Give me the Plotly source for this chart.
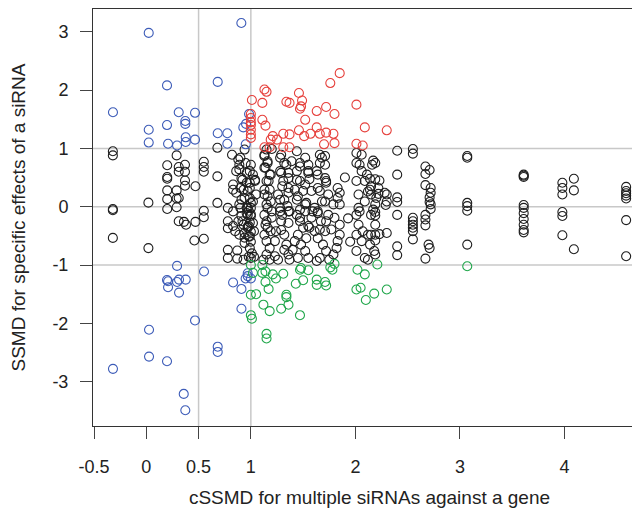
import plotly.graph_objects as go

# ---------------- data ----------------
blue_pts = [
    (0.909, 3.15), (0.023, 2.98), (0.198, 2.08), (0.683, 2.14), (-0.319, 1.62), (0.31, 1.62),
    (0.466, 1.61), (0.373, 1.47), (0.373, 1.42), (0.198, 1.40), (0.023, 1.32), (0.023, 1.10),
    (0.208, 1.08), (0.294, 1.05), (0.377, 1.11), (0.377, 1.19), (0.466, 1.15), (0.683, 1.26),
    (0.775, 1.26), (0.775, 1.08), (0.928, 1.36), (0.954, 1.42), (0.983, 1.59), (0.951, 1.07),
    (0.294, -1.015), (0.552, -1.11), (0.198, -1.256), (0.208, -1.278), (0.208, -1.381), (0.294, -1.29),
    (0.313, -1.25), (0.377, -1.25), (0.313, -1.473), (0.83, -1.30), (0.91, -1.41), (0.95, -1.23),
    (0.97, -1.19), (1.0, -1.23), (0.97, -1.14), (0.91, -1.75), (0.466, -1.95), (0.026, -2.11),
    (0.683, -2.40), (0.683, -2.49), (0.026, -2.57), (0.198, -2.65), (-0.319, -2.78), (0.358, -3.21),
    (0.373, -3.49),
]

red_pts = [
    (1.01, 1.83), (1.0, 1.59), (1.0, 1.52), (1.0, 1.45), (1.0, 1.40), (1.0, 1.32), (1.0, 1.24), (1.0, 1.18),
    (1.11, 1.78), (1.13, 2.01), (1.15, 1.97), (1.11, 1.49), (1.14, 1.39), (1.21, 1.21), (1.19, 1.15),
    (1.25, 1.15), (1.13, 1.02), (1.18, 1.02), (1.31, 1.25), (1.37, 1.24), (1.31, 1.02), (1.37, 1.02),
    (1.34, 1.80), (1.37, 1.78), (1.46, 1.95), (1.49, 1.82), (1.48, 1.72), (1.47, 1.68), (1.52, 1.49),
    (1.46, 1.31), (1.51, 1.21), (1.57, 1.25), (1.63, 1.64), (1.72, 1.71), (1.80, 1.59), (1.63, 1.36),
    (1.66, 1.25), (1.72, 1.27), (1.79, 1.25), (1.70, 1.07), (1.80, 1.09), (1.76, 2.12), (1.85, 2.29),
    (2.01, 1.75), (2.09, 1.36), (2.01, 1.08), (2.07, 1.05), (2.30, 1.31),
]

green_pts = [
    (1.0, -1.00), (1.02, -1.135), (1.0, -1.51), (1.05, -1.50), (1.0, -1.86), (1.01, -1.92), (1.11, -1.00),
    (1.11, -1.135), (1.14, -1.11), (1.14, -1.29), (1.17, -1.41), (1.21, -1.16), (1.24, -1.23), (1.31, -1.15),
    (1.12, -1.68), (1.18, -1.79), (1.29, -1.75), (1.15, -2.18), (1.15, -2.26), (1.34, -1.51), (1.34, -1.55),
    (1.36, -1.68), (1.43, -1.32), (1.47, -1.86), (1.47, -1.08), (1.48, -1.05), (1.55, -1.09), (1.50, -1.26),
    (1.63, -1.25), (1.63, -1.34), (1.71, -1.29), (1.72, -1.35), (1.76, -1.04), (1.78, -1.08), (1.80, -0.98),
    (2.02, -1.08), (2.09, -1.16), (2.01, -1.42), (2.05, -1.39), (2.10, -1.60), (2.18, -1.49), (2.21, -0.99),
    (2.30, -1.42), (3.07, -1.02),
]

black_pts = [
    # left, sparse
    (-0.32, 0.95), (-0.32, 0.88), (-0.32, -0.04), (-0.32, -0.06), (-0.32, -0.535),
    (0.02, 0.07), (0.02, -0.71),
    (0.2, 0.71), (0.2, 0.51), (0.2, 0.48), (0.2, 0.28), (0.2, 0.13), (0.2, -0.04),
    (0.29, 0.88), (0.29, 0.28), (0.29, 0.14), (0.29, -0.01), (0.31, -0.25),
    (0.31, 0.68), (0.31, 0.60), (0.31, 0.15),
    (0.37, 0.72), (0.37, 0.60), (0.37, 0.45), (0.37, 0.36), (0.36, -0.26), (0.38, -0.31),
    (0.47, 0.35), (0.47, -0.26), (0.46, -0.58),
    (0.55, 0.77), (0.55, 0.68), (0.55, 0.60), (0.55, -0.07), (0.55, -0.18), (0.55, -0.55),
    (0.68, 1.01), (0.68, 0.52), (0.68, 0.065),
    # 0.75 - 1.05
    (0.78, -0.02), (0.83, -0.08), (0.82, 0.89), (0.88, 0.81), (0.89, 0.72), (0.86, 0.61), (0.91, 0.49),
    (0.83, 0.38), (0.83, 0.29), (0.86, 0.24), (0.93, 0.29), (0.96, 0.41), (0.99, 0.61), (0.94, 0.98),
    (0.91, 0.12), (0.99, 0.15), (1.0, -0.02), (1.04, 0.46), (0.89, 0.04), (0.96, -0.02),
    (0.78, -0.25), (0.78, -0.37), (0.83, -0.33), (0.85, -0.42), (0.88, -0.25), (0.91, -0.16), (0.93, -0.31),
    (0.89, -0.48), (0.94, -0.53), (0.94, -0.62), (0.97, -0.36), (0.99, -0.51), (1.0, -0.13), (1.02, -0.28),
    (1.03, -0.42), (0.96, -0.11), (0.78, -0.74), (0.78, -0.88), (0.87, -0.75), (0.87, -0.89), (0.93, -0.91),
    (0.90, 0.84), (0.95, 0.75), (0.89, 0.64), (0.96, 0.58), (0.92, 0.46), (0.99, 0.41), (0.90, 0.32),
    (0.97, 0.27), (0.94, 0.15), (1.0, 0.065), (0.90, -0.02), (0.97, -0.14), (0.92, -0.25), (0.98, -0.33),
    (0.94, -0.45),
    (0.98, -0.07), (1.0, -0.16), (0.99, -0.27), (0.97, -0.34), (1.0, -0.43), (0.98, -0.51), (1.0, -0.60),
    (0.99, -0.71), (0.98, -0.86), (1.0, -0.88), (1.01, -0.80), (1.03, -0.86),
    (1.0, 0.72), (1.02, 0.55), (1.04, 0.44), (0.99, 0.32), (1.05, 0.21), (1.02, 0.09), (0.97, -0.02),
    # 1.1 - 1.4, lower
    (1.13, -0.14), (1.15, -0.25), (1.16, -0.36), (1.13, -0.48), (1.15, -0.59), (1.18, -0.71), (1.15, -0.82),
    (1.18, -0.91), (1.12, -0.91), (1.23, -0.85), (1.26, -0.91), (1.23, -0.59), (1.24, -0.42), (1.29, -0.25),
    (1.32, -0.48), (1.34, -0.65), (1.36, -0.82), (1.37, -0.91), (1.32, -0.74), (1.28, -0.08), (1.20, -0.08),
    (1.36, -0.08),
    # 1.4 - 1.6, lower
    (1.44, -0.14), (1.47, -0.25), (1.50, -0.36), (1.45, -0.48), (1.42, -0.59), (1.48, -0.65), (1.52, -0.76),
    (1.55, -0.88), (1.45, -0.88), (1.40, -0.74), (1.53, -0.54), (1.56, -0.36), (1.58, -0.19), (1.52, -0.08),
    # 1.6 - 1.9, lower
    (1.64, -0.11), (1.67, -0.25), (1.71, -0.42), (1.64, -0.54), (1.69, -0.65), (1.72, -0.76), (1.66, -0.88),
    (1.75, -0.91), (1.79, -0.82), (1.82, -0.71), (1.83, -0.59), (1.85, -0.48), (1.85, -0.31), (1.80, -0.19),
    (1.74, -0.14), (1.77, -0.39), (1.63, -0.93),
    # 2.0 - 2.2, lower
    (2.01, -0.14), (2.03, -0.31), (2.07, -0.42), (2.01, -0.48), (2.06, -0.59), (2.15, -0.48), (2.14, -0.65),
    (2.01, -0.76), (2.09, -0.88), (2.19, -0.82), (2.15, -0.14), (2.19, -0.31), (2.04, -0.08),
    # 1.1 - 1.4, upper
    (1.15, 0.98), (1.20, 0.99), (1.13, 0.87), (1.16, 0.75), (1.13, 0.67), (1.18, 0.55), (1.15, 0.44),
    (1.13, 0.29), (1.16, 0.18), (1.15, 0.04),
    (1.29, 0.89), (1.32, 0.75), (1.28, 0.61), (1.36, 0.58), (1.31, 0.44), (1.36, 0.32), (1.26, 0.21),
    (1.32, 0.12), (1.28, -0.02), (1.37, -0.08),
    # 1.4 - 1.6, upper
    (1.39, 0.78), (1.47, 0.75), (1.55, 0.72), (1.55, 0.58), (1.47, 0.44), (1.44, 0.61), (1.56, 0.47),
    (1.42, 0.29), (1.50, 0.27), (1.44, 0.12), (1.52, 0.04), (1.47, -0.05),
    # 1.6 - 1.9, upper
    (1.68, 0.84), (1.71, 0.87), (1.66, 0.75), (1.63, 0.61), (1.71, 0.49), (1.64, 0.32), (1.72, 0.44),
    (1.74, 0.21), (1.83, 0.32), (1.85, 0.24), (1.83, 0.15), (1.79, 0.04), (1.68, 0.09), (1.61, -0.02),
    (1.85, 0.04),
    # 2.0 - 2.2, upper
    (2.01, 0.92), (2.06, 0.89), (2.01, 0.75), (2.04, 0.72), (2.06, 0.61), (2.01, 0.44), (2.11, 0.55),
    (2.09, 0.44), (2.14, 0.29), (2.15, 0.21), (2.03, 0.21), (2.09, 0.09), (2.17, -0.05), (2.03, -0.02),
    # extra dense-core points
    (1.13, 0.89), (1.16, 0.78), (1.14, 0.67), (1.19, 0.55), (1.17, 0.44), (1.18, 0.29), (1.13, 0.21),
    (1.19, 0.09), (1.16, -0.02), (1.2, -0.19), (1.14, -0.31), (1.19, -0.42),
    (1.28, 0.84), (1.34, 0.72), (1.29, 0.58), (1.36, 0.49), (1.30, 0.35), (1.36, 0.24), (1.28, 0.12),
    (1.35, 0.01), (1.30, -0.14), (1.36, -0.28), (1.29, -0.40),
    (1.44, 0.95), (1.52, 0.84), (1.47, 0.69), (1.55, 0.61), (1.44, 0.46), (1.52, 0.38), (1.58, 0.27),
    (1.45, 0.18), (1.53, 0.065), (1.59, -0.08), (1.47, -0.19), (1.55, -0.33), (1.61, -0.42),
    (1.66, 0.89), (1.71, 0.72), (1.64, 0.55), (1.72, 0.41), (1.66, 0.27), (1.71, 0.09), (1.64, -0.08),
    (1.72, -0.25), (1.66, -0.39),
    (1.90, 0.50), (1.93, -0.20), (1.95, -0.60),
    # right, sparser
    (2.40, 0.96), (2.55, 0.99), (2.55, 0.91), (3.07, 0.87), (3.07, 0.84), (2.17, 0.79), (2.19, 0.75),
    (2.16, 0.72), (2.40, 0.55), (2.67, 0.69), (2.71, 0.63), (2.67, 0.56),
    (2.14, 0.48), (2.19, 0.47), (2.23, 0.45), (2.15, 0.35), (2.22, 0.32), (2.12, 0.26), (2.22, 0.22),
    (2.28, 0.24), (2.30, 0.21), (2.20, 0.15), (2.30, 0.09), (2.19, 0.04), (2.29, 0.03),
    (2.40, 0.16), (2.40, 0.08),
    (2.67, 0.37), (2.72, 0.32), (2.72, 0.24), (2.71, 0.16), (2.71, 0.08), (2.72, 0.04), (2.72, -0.04),
    (3.07, 0.065), (3.07, 0.01), (3.07, -0.07),
    (2.40, -0.14), (2.19, -0.09), (2.19, -0.15),
    (2.55, -0.19), (2.55, -0.25), (2.55, -0.31), (2.55, -0.36), (2.55, -0.42),
    (2.67, -0.14), (2.67, -0.22), (2.67, -0.32),
    (2.12, -0.48), (2.19, -0.48), (2.23, -0.47), (2.30, -0.45), (2.19, -0.58), (2.18, -0.76), (2.12, -0.91),
    (2.55, -0.56), (2.40, -0.68), (2.40, -0.83), (2.70, -0.65), (2.71, -0.71), (2.67, -0.89), (3.07, -0.65),
    (3.61, 0.55), (3.61, 0.53), (3.61, 0.51), (3.61, 0.03), (3.61, -0.02), (3.61, -0.11), (3.61, -0.21),
    (3.61, -0.31), (3.61, -0.40), (3.61, -0.44),
    (3.98, 0.41), (3.98, 0.32), (3.98, 0.21), (4.09, 0.48), (4.09, 0.28), (3.98, -0.09), (3.98, -0.16),
    (3.98, -0.49), (4.09, -0.73),
    (4.59, 0.34), (4.59, 0.27), (4.59, 0.23), (4.59, 0.19), (4.59, 0.14), (4.59, -0.23), (4.59, -0.85),
]

x_tick_vals = [-0.5, 0, 0.5, 1, 2, 3, 4]
x_tick_text = ["-0.5", "0", "0.5", "1", "2", "3", "4"]
y_tick_vals = [-3, -2, -1, 0, 1, 2, 3]
y_tick_text = ["-3", "-2", "-1", "0", "1", "2", "3"]
vlines = [0.5, 1]
hlines = [-1, 0, 1]

x_title = "cSSMD for multiple siRNAs against a gene"
y_title = "SSMD for specific effects of a siRNA"

# ---------------- styling ----------------
FONT = "Liberation Sans, Arial, Helvetica, sans-serif"
series = [
    (black_pts, "#1e1e1e"),
    (blue_pts, "#3d5cb8"),
    (red_pts, "#e6403c"),
    (green_pts, "#1fa64a"),
]

fig = go.Figure()
for pts, col in series:
    xs = [p[0] for p in pts]
    ys = [p[1] for p in pts]
    fig.add_trace(go.Scatter(
        x=xs, y=ys, mode="markers",
        marker=dict(symbol="circle-open", size=9, color=col, line=dict(width=1.1, color=col)),
        showlegend=False, hoverinfo="skip",
    ))

shapes = []
for v in vlines:
    shapes.append(dict(type="line", xref="x", yref="paper", x0=v, x1=v, y0=0, y1=1,
                       line=dict(color="#c8c8c8", width=1.5), layer="below"))
for h in hlines:
    shapes.append(dict(type="line", xref="paper", yref="y", x0=0, x1=1, y0=h, y1=h,
                       line=dict(color="#c8c8c8", width=1.5), layer="below"))

fig.update_layout(
    width=640, height=511,
    margin=dict(l=85, r=2, t=1, b=93),
    paper_bgcolor="white", plot_bgcolor="white",
    font=dict(family=FONT, size=18, color="#222222"),
    shapes=shapes,
    xaxis=dict(
        range=[-0.51, 4.78], tickmode="array", tickvals=x_tick_vals, ticktext=x_tick_text,
        showgrid=False, zeroline=False, showline=True, mirror=True, linecolor="#333333", linewidth=1,
        ticks="outside", ticklen=12, tickwidth=1, tickcolor="#444444",
        tickfont=dict(family=FONT, size=18, color="#222222"), ticklabelstandoff=12,
        title=dict(text=x_title, font=dict(family=FONT, size=19, color="#222222"), standoff=15),
    ),
    yaxis=dict(
        range=[-3.76, 3.39], tickmode="array", tickvals=y_tick_vals, ticktext=y_tick_text,
        showgrid=False, zeroline=False, showline=True, mirror=True, linecolor="#333333", linewidth=1,
        ticks="outside", ticklen=12, tickwidth=1, tickcolor="#444444",
        tickfont=dict(family=FONT, size=18, color="#222222"), ticklabelstandoff=8,
        title=dict(text=y_title, font=dict(family=FONT, size=19, color="#222222"), standoff=27),
    ),
)

fig.write_html("out.html")
